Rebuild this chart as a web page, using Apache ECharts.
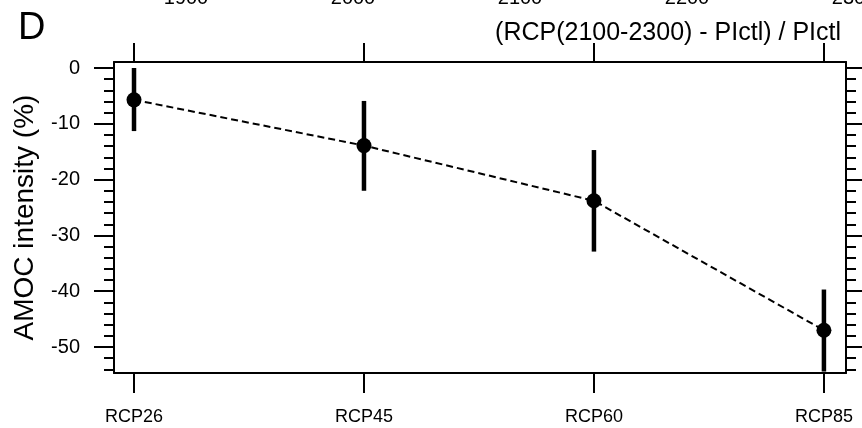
<!DOCTYPE html>
<html>
<head>
<meta charset="utf-8">
<title>AMOC intensity change by RCP</title>
<script src="https://cdn.jsdelivr.net/npm/echarts@6/dist/echarts.min.js"></script>
<style>
  html, body { margin: 0; padding: 0; background: #fff; }
  #chart { width: 862px; height: 428px; }
</style>
</head>
<body>
<div id="chart"></div>
<script>
// (RCP(2100-2300) - PIctl) / PIctl, AMOC change per scenario
const scenarios = ['RCP26', 'RCP45', 'RCP60', 'RCP85'];
const meanChange = [-5.7, -13.9, -23.8, -47.0];
const lowerBound = [-11.3, -22.0, -32.9, -54.4];
const upperBound = [0.0, -5.9, -14.7, -39.7];

const majorTicks = [0, -10, -20, -30, -40, -50];
const minorTicks = [-2, -4, -6, -8, -12, -14, -16, -18, -22, -24, -26, -28,
  -32, -34, -36, -38, -42, -44, -46, -48, -52, -54];
// tick labels of the panel above, cut off at the top edge
const yearLabels = ['1900', '2000', '2100', '2200', '2300'];

const FONT = '"Liberation Sans", Arial, Helvetica, sans-serif';
const INK = '#000';
const xPos = scenarios.map((_, i) => i);

const xMin = -0.087, xMax = 3.096;
const yMin = -54.66, yMax = 1.08;

const chart = echarts.init(document.getElementById('chart'), null, { renderer: 'canvas' });

function xAxisOf(position, showLabels, tickLen) {
  return {
    type: 'value', position, min: xMin, max: xMax,
    axisLine: { show: true, onZero: false, lineStyle: { color: INK, width: 2 } },
    axisTick: { show: true, inside: false, length: tickLen, customValues: xPos, lineStyle: { color: INK, width: 2 } },
    axisLabel: showLabels ? {
      show: true, customValues: xPos, margin: 35, color: INK,
      fontFamily: FONT, fontSize: 18,
      formatter: (v) => scenarios[Math.round(v)] || ''
    } : { show: false },
    splitLine: { show: false }
  };
}

function yAxisOf(position, ticks, tickLen, opts) {
  opts = opts || {};
  return {
    type: 'value', position, min: yMin, max: yMax,
    name: opts.name || '', nameLocation: 'middle', nameGap: 75, nameRotate: 90,
    nameTextStyle: { color: INK, fontFamily: FONT, fontSize: 28 },
    axisLine: { show: !!opts.line, onZero: false, lineStyle: { color: INK, width: 2 } },
    axisTick: { show: true, inside: false, length: tickLen, customValues: ticks, lineStyle: { color: INK, width: 2 } },
    axisLabel: opts.labels ? {
      show: true, customValues: ticks, margin: 34, color: INK,
      fontFamily: FONT, fontSize: 20,
      formatter: (v) => String(Math.round(v))
    } : { show: false },
    splitLine: { show: false }
  };
}

const option = {
  animation: false,
  backgroundColor: '#fff',
  title: [
    { text: 'D', left: 13, top: 5, textStyle: { color: INK, fontFamily: FONT, fontSize: 38, fontWeight: 'normal' } },
    { text: '(RCP(2100-2300) - PIctl) / PIctl', right: 16, top: 16,
      textStyle: { color: INK, fontFamily: FONT, fontSize: 25, fontWeight: 'normal' } }
  ],
  graphic: yearLabels.map((t, i) => ({
    type: 'text', x: 186 + i * 167, y: -2,
    style: { text: t, fill: INK, font: '20px ' + FONT, textAlign: 'center', textVerticalAlign: 'middle' }
  })),
  grid: { left: 114, top: 62, width: 732, height: 311, containLabel: false },
  xAxis: [xAxisOf('bottom', true, 20), xAxisOf('top', false, 19)],
  yAxis: [
    yAxisOf('left', majorTicks, 20, { line: true, labels: true, name: 'AMOC intensity (%)' }),
    yAxisOf('left', minorTicks, 10),
    yAxisOf('right', majorTicks, 16, { line: true }),
    yAxisOf('right', minorTicks, 10)
  ],
  series: [
    {
      type: 'custom',
      name: 'range',
      xAxisIndex: 0, yAxisIndex: 0,
      data: xPos.map((x, i) => [x, lowerBound[i], upperBound[i]]),
      encode: { x: 0, y: [1, 2] },
      renderItem: (params, api) => {
        const lo = api.coord([api.value(0), api.value(1)]);
        const hi = api.coord([api.value(0), api.value(2)]);
        return {
          type: 'line',
          shape: { x1: lo[0], y1: lo[1], x2: hi[0], y2: hi[1] },
          style: { stroke: INK, lineWidth: 4.5 }
        };
      },
      z: 3
    },
    {
      type: 'line',
      name: 'mean',
      xAxisIndex: 0, yAxisIndex: 0,
      data: xPos.map((x, i) => [x, meanChange[i]]),
      symbol: 'circle', symbolSize: 15,
      itemStyle: { color: INK },
      lineStyle: { color: INK, width: 2, type: [7, 4] },
      z: 4
    }
  ]
};

chart.setOption(option);
</script>
</body>
</html>
